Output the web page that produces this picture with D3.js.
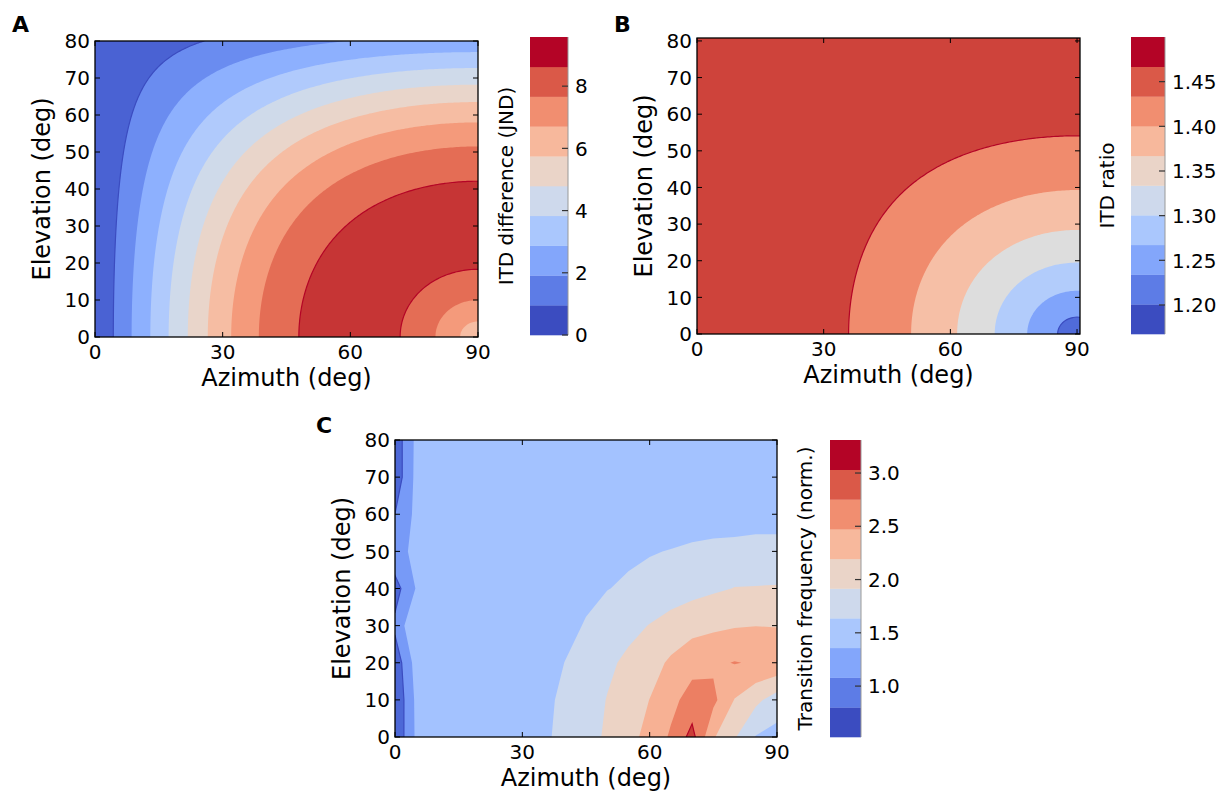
<!DOCTYPE html>
<html><head><meta charset="utf-8">
<script src="https://cdn.jsdelivr.net/npm/d3@7"></script>
<style>
body{margin:0;background:#fff;}
text{font-family:"DejaVu Sans",sans-serif;fill:#000;}
</style></head>
<body><svg id="chart" width="1227" height="796"></svg>
<script>
// ---------------- data ----------------
const azTicks = [0, 30, 60, 90];
const elTicks = [0, 10, 20, 30, 40, 50, 60, 70, 80];

// Panel A: azimuths (at elevation 0) where the ITD difference crosses a contour level,
// and the contour layer (0 = lowest of 10) that begins after each crossing.
const aCrossAz = [4.3, 8.6, 13.0, 17.3, 21.8, 26.5, 32.0, 38.5, 47.9, 71.7, 80.0, 85.8];
const aLayerStart = 0;
const aLayerAfter = [1, 2, 3, 4, 5, 6, 7, 8, 9, 8, 7, 6];
const aLayerCount = 10;
const aCbarDomain = [0, 9.58];
const aCbarTicks = [0, 2, 4, 6, 8];

// Panel B: ITD ratio, same description (7 contour layers)
const bCrossAz = [35.9, 50.7, 61.6, 70.5, 78.2, 85.4];
const bLayerStart = 6;
const bLayerAfter = [5, 4, 3, 2, 1, 0];
const bLayerCount = 7;
const bCbarDomain = [1.1675, 1.5];
const bCbarTicks = [1.20, 1.25, 1.30, 1.35, 1.40, 1.45];

// Panel C: transition frequency (norm.) on the measured grid
const cAzimuth = [0, 5, 10, 15, 20, 25, 30, 35, 40, 45, 50, 55, 60, 65, 70, 75, 80, 85, 90];
const cElevation = [0, 10, 20, 30, 40, 50, 60, 70, 80];
const cValues = [
  [0.579, 1.275, 1.35, 1.38, 1.40, 1.43, 1.47, 1.53, 1.63, 1.78, 1.97, 2.15, 2.38, 2.66, 3.08, 2.30, 1.95, 1.55, 1.45], // el 0
  [0.567, 1.29, 1.34, 1.37, 1.40, 1.43, 1.47, 1.52, 1.61, 1.76, 1.93, 2.10, 2.27, 2.52, 2.75, 2.70, 2.25, 2.00, 1.75],   // el 10
  [0.646, 1.36, 1.36, 1.37, 1.40, 1.43, 1.46, 1.50, 1.57, 1.70, 1.85, 1.99, 2.13, 2.32, 2.50, 2.55, 2.63, 2.58, 2.545], // el 20
  [0.95, 1.56, 1.40, 1.41, 1.42, 1.44, 1.46, 1.49, 1.52, 1.58, 1.70, 1.82, 1.93, 2.05, 2.14, 2.20, 2.24, 2.26, 2.25],    // el 30
  [0.728, 1.24, 1.38, 1.40, 1.41, 1.43, 1.45, 1.47, 1.50, 1.53, 1.56, 1.61, 1.67, 1.74, 1.81, 1.87, 1.925, 1.93, 1.935], // el 40
  [1.14, 1.27, 1.39, 1.40, 1.41, 1.42, 1.43, 1.44, 1.46, 1.48, 1.50, 1.52, 1.55, 1.58, 1.63, 1.68, 1.72, 1.745, 1.755],  // el 50
  [0.875, 1.306, 1.38, 1.39, 1.39, 1.39, 1.39, 1.39, 1.39, 1.39, 1.39, 1.39, 1.39, 1.39, 1.38, 1.36, 1.33, 1.36, 1.35], // el 60
  [0.644, 1.31, 1.37, 1.38, 1.38, 1.38, 1.38, 1.38, 1.38, 1.38, 1.38, 1.38, 1.38, 1.38, 1.38, 1.38, 1.37, 1.37, 1.37],  // el 70
  [0.652, 1.296, 1.37, 1.38, 1.38, 1.38, 1.38, 1.38, 1.38, 1.38, 1.38, 1.38, 1.38, 1.38, 1.38, 1.38, 1.38, 1.38, 1.38]  // el 80
];
const cLevels = [0.522, 0.871, 1.219, 1.568, 1.917, 2.265, 2.614, 2.963, 3.31];
const cCbarDomain = [0.522, 3.31];
const cCbarTicks = [1.0, 1.5, 2.0, 2.5, 3.0];

// ---------------- colormap (matplotlib coolwarm control points) ----------------
const CW = [
[0.0,0.2298057,0.298717966,0.753683153],[0.03125,0.26623388,0.353094838,0.801466763],
[0.0625,0.30386891,0.406535296,0.84495867],[0.09375,0.342804478,0.458757618,0.883725899],
[0.125,0.38301334,0.50941904,0.917387822],[0.15625,0.424369608,0.558148092,0.945619588],
[0.1875,0.46666708,0.604562568,0.968154911],[0.21875,0.509635204,0.648280772,0.98478814],
[0.25,0.552953156,0.688929332,0.995375608],[0.28125,0.596262162,0.726149107,0.999836203],
[0.3125,0.639176211,0.759599947,0.998151185],[0.34375,0.681291281,0.788964712,0.990363227],
[0.375,0.722193294,0.813952739,0.976574709],[0.40625,0.761464949,0.834302879,0.956945269],
[0.4375,0.798691636,0.849786142,0.931688648],[0.46875,0.833466556,0.860207984,0.901068838],
[0.5,0.865395197,0.86541021,0.865410157],[0.53125,0.897787179,0.848937047,0.820880546],
[0.5625,0.924127593,0.827384882,0.774508472],[0.59375,0.944468518,0.800927443,0.726736325],
[0.625,0.958852946,0.769767752,0.678007945],[0.65625,0.96732803,0.734132809,0.628751763],
[0.6875,0.969954137,0.694266682,0.579375448],[0.71875,0.966811177,0.650421156,0.530263762],
[0.75,0.958003065,0.602842431,0.481775914],[0.78125,0.943660866,0.551750968,0.434243684],
[0.8125,0.923944917,0.49730856,0.387970225],[0.84375,0.89904617,0.439559467,0.343229596],
[0.875,0.869186849,0.378313092,0.300267182],[0.90625,0.834620542,0.312874446,0.259301199],
[0.9375,0.795631745,0.24128379,0.220525627],[0.96875,0.752534934,0.157246067,0.184115123],
[1.0,0.705673158,0.01555616,0.150232812]];
function coolwarm(t){
  t = Math.max(0, Math.min(1, t));
  const i = Math.min(CW.length - 2, Math.floor(t * 32));
  const a = CW[i], b = CW[i + 1], f = (t - a[0]) / (b[0] - a[0]);
  const c = k => Math.round(255 * (a[k] + f * (b[k] - a[k])));
  return d3.rgb(c(1), c(2), c(3)).formatHex();
}
const layerColor = (i, n) => coolwarm((i + 0.5) / n);
const LOW = coolwarm(0), HIGH = coolwarm(1);

// ---------------- drawing ----------------
const svg = d3.select("#chart");
const defs = svg.append("defs");
const TICK_FS = 20, LABEL_FS = 24, CB_FS = 20;

function makeAxes(id, box, xDom, yDom) {
  const x = d3.scaleLinear().domain(xDom).range([box.x0, box.x1]);
  const y = d3.scaleLinear().domain(yDom).range([box.y0, box.y1]);
  defs.append("clipPath").attr("id", "clip" + id).append("rect")
    .attr("x", box.x0).attr("y", box.y1).attr("width", box.x1 - box.x0).attr("height", box.y0 - box.y1);
  const g = svg.append("g");
  const plot = g.append("g").attr("clip-path", `url(#clip${id})`);
  return {x, y, g, plot, box};
}

function finishAxes(ax, letter, letterPos) {
  const {x, y, g, box} = ax;
  const tl = 5;
  const tg = g.append("g").attr("stroke", "#000").attr("stroke-width", 1);
  azTicks.forEach(v => {
    const px = x(v);
    tg.append("line").attr("x1", px).attr("x2", px).attr("y1", box.y0).attr("y2", box.y0 - tl);
    tg.append("line").attr("x1", px).attr("x2", px).attr("y1", box.y1).attr("y2", box.y1 + tl);
    g.append("text").attr("x", px).attr("y", box.y0 + 22).attr("text-anchor", "middle")
      .attr("font-size", TICK_FS).text(v);
  });
  elTicks.forEach(v => {
    const py = y(v);
    tg.append("line").attr("x1", box.x0).attr("x2", box.x0 + tl).attr("y1", py).attr("y2", py);
    tg.append("line").attr("x1", box.x1).attr("x2", box.x1 - tl).attr("y1", py).attr("y2", py);
    g.append("text").attr("x", box.x0 - 5).attr("y", py).attr("dy", "0.36em").attr("text-anchor", "end")
      .attr("font-size", TICK_FS).text(v);
  });
  g.append("rect").attr("x", box.x0).attr("y", box.y1).attr("width", box.x1 - box.x0)
    .attr("height", box.y0 - box.y1).attr("fill", "none").attr("stroke", "#000").attr("stroke-width", 1.3);
  g.append("text").attr("x", (box.x0 + box.x1) / 2).attr("y", box.y0 + 49).attr("text-anchor", "middle")
    .attr("font-size", LABEL_FS).text("Azimuth (deg)");
  g.append("text").attr("transform", `translate(${box.x0 - 45},${(box.y0 + box.y1) / 2}) rotate(-90)`)
    .attr("text-anchor", "middle").attr("font-size", LABEL_FS).text("Elevation (deg)");
  svg.append("text").attr("x", letterPos[0]).attr("y", letterPos[1]).attr("font-size", 22)
    .attr("font-weight", "bold").text(letter);
}

function geoPathFor(ax, stepX, stepY) {
  return d3.geoPath(d3.geoTransform({
    point(px, py) { this.stream.point(ax.x((px - 0.5) * stepX), ax.y((py - 0.5) * stepY)); }
  }));
}

// lateral-angle field: iso-lines of constant lateral angle through each crossing azimuth
function drawLateral(ax, crossAz, layerStart, layerAfter, nLayers) {
  const step = 0.5, nx = 184, ny = 164;
  const lat = new Array(nx * ny);
  for (let j = 0; j < ny; j++) for (let i = 0; i < nx; i++) {
    const az = i * step * Math.PI / 180, el = j * step * Math.PI / 180;
    lat[j * nx + i] = Math.asin(Math.min(1, Math.sin(az) * Math.cos(el))) * 180 / Math.PI;
  }
  const gen = d3.contours().size([nx, ny]);
  const path = geoPathFor(ax, step, step);
  const b = ax.box;
  ax.plot.append("rect").attr("x", b.x0).attr("y", b.y1).attr("width", b.x1 - b.x0).attr("height", b.y0 - b.y1)
    .attr("fill", layerColor(layerStart, nLayers));
  const shapes = crossAz.map(a => gen.contour(lat, a));
  shapes.forEach((s, k) => {
    ax.plot.append("path").attr("d", path(s)).attr("fill", layerColor(layerAfter[k], nLayers));
  });
  shapes.forEach((s, k) => {
    const before = k === 0 ? layerStart : layerAfter[k - 1], after = layerAfter[k];
    let col = null;
    if (before === nLayers - 1 || after === nLayers - 1) col = HIGH;
    else if (before === 0 || after === 0) col = LOW;
    if (col) ax.plot.append("path").attr("d", path(s)).attr("fill", "none").attr("stroke", col).attr("stroke-width", 1.2);
  });
}

function drawGrid(ax) {
  const nx = cAzimuth.length, ny = cElevation.length;
  const vals = [];
  cValues.forEach(row => row.forEach(v => vals.push(v)));
  const gen = d3.contours().size([nx, ny]);
  const path = geoPathFor(ax, cAzimuth[1] - cAzimuth[0], cElevation[1] - cElevation[0]);
  const b = ax.box, n = cLevels.length - 1;
  ax.plot.append("rect").attr("x", b.x0).attr("y", b.y1).attr("width", b.x1 - b.x0).attr("height", b.y0 - b.y1)
    .attr("fill", layerColor(0, n));
  const inner = cLevels.slice(1, -1);
  const shapes = inner.map(l => gen.contour(vals, l));
  shapes.forEach((s, k) => ax.plot.append("path").attr("d", path(s)).attr("fill", layerColor(k + 1, n)));
  ax.plot.append("path").attr("d", path(shapes[0])).attr("fill", "none").attr("stroke", LOW).attr("stroke-width", 1.2);
  ax.plot.append("path").attr("d", path(shapes[shapes.length - 1])).attr("fill", "none").attr("stroke", HIGH).attr("stroke-width", 1.2);
}

function colorbar(box, domain, ticks, fmt, label, labelX) {
  const y = d3.scaleLinear().domain(domain).range([box.y0, box.y1]);
  const g = svg.append("g");
  const nb = 10, w = (domain[1] - domain[0]) / nb;
  for (let i = 0; i < nb; i++) {
    const lo = domain[0] + i * w, hi = lo + w;
    g.append("rect").attr("x", box.x0).attr("width", box.x1 - box.x0)
      .attr("y", y(hi)).attr("height", y(lo) - y(hi) + 0.3).attr("fill", coolwarm(i / (nb - 1)));
  }
  g.append("line").attr("x1", box.x1).attr("x2", box.x1).attr("y1", box.y1).attr("y2", box.y0)
    .attr("stroke", "#999").attr("stroke-width", 1);
  ticks.forEach(v => {
    g.append("line").attr("x1", box.x1 - 6).attr("x2", box.x1).attr("y1", y(v)).attr("y2", y(v))
      .attr("stroke", "#333").attr("stroke-width", 1.2);
    g.append("text").attr("x", box.x1 + 7).attr("y", y(v)).attr("dy", "0.36em")
      .attr("font-size", CB_FS).text(fmt(v));
  });
  g.append("text").attr("transform", `translate(${labelX},${(box.y0 + box.y1) / 2}) rotate(-90)`)
    .attr("text-anchor", "middle").attr("font-size", CB_FS).text(label);
}

// Panel A
const axA = makeAxes("A", {x0: 95, x1: 478, y0: 337, y1: 41}, [0, 90], [0, 80]);
drawLateral(axA, aCrossAz, aLayerStart, aLayerAfter, aLayerCount);
finishAxes(axA, "A", [12, 32]);
colorbar({x0: 530, x1: 568, y0: 335, y1: 37}, aCbarDomain, aCbarTicks, d3.format("d"), "ITD difference (JND)", 513);

// Panel B
const axB = makeAxes("B", {x0: 697, x1: 1080, y0: 334, y1: 38}, [0, 90.7], [0, 80.8]);
drawLateral(axB, bCrossAz, bLayerStart, bLayerAfter, bLayerCount);
finishAxes(axB, "B", [614, 32]);
colorbar({x0: 1131, x1: 1165, y0: 334, y1: 37}, bCbarDomain, bCbarTicks, d3.format(".2f"), "ITD ratio", 1114);

// Panel C
const axC = makeAxes("C", {x0: 395, x1: 777, y0: 737, y1: 440}, [0, 90], [0, 80]);
drawGrid(axC);
finishAxes(axC, "C", [316, 433]);
colorbar({x0: 830, x1: 861, y0: 737, y1: 440}, cCbarDomain, cCbarTicks, d3.format(".1f"), "Transition frequency (norm.)", 812);
</script>
</body></html>
